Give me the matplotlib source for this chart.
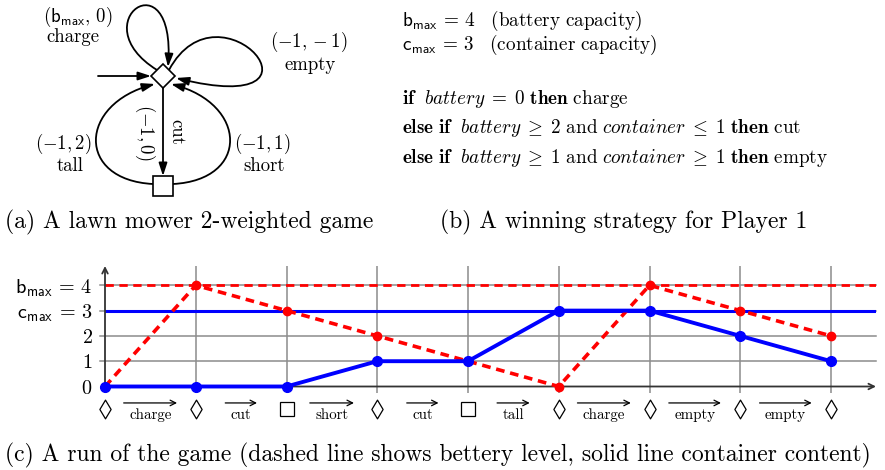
import matplotlib
matplotlib.use('Agg')
import matplotlib.pyplot as plt
from matplotlib.path import Path
from matplotlib.patches import Polygon, Rectangle, FancyArrowPatch

plt.rcParams['font.family'] = ['cmr10', 'DejaVu Serif']
plt.rcParams['mathtext.fontset'] = 'cm'
plt.rcParams['axes.unicode_minus'] = False

# run of the game
states = ['d', 'd', 's', 'd', 's', 'd', 'd', 'd', 'd']
moves = ['charge', 'cut', 'short', 'cut', 'tall', 'charge', 'empty', 'empty']
battery = [0, 4, 3, 2, 1, 0, 4, 3, 2]
container = [0, 0, 0, 1, 1, 3, 3, 2, 1]
b_max = 4
c_max = 3
y_ticks = [0, 1, 2, 3, 4]
y_ticklabels = ['$0$', '$1$', '$2$',
                r'$\mathsf{c}_{\mathsf{max}}\,=\,3$', r'$\mathsf{b}_{\mathsf{max}}\,=\,4$']

# strategy text
strategy = [
    r'$\mathbf{if}\ \ \mathit{battery}\;=\;0\ \mathbf{then}\ \mathrm{charge}$',
    r'$\mathbf{else\ if}\ \ \mathit{battery}\;\geq\;2\ \mathrm{and}\ \mathit{container}\;\leq\;1\ \mathbf{then}\ \mathrm{cut}$',
    r'$\mathbf{else\ if}\ \ \mathit{battery}\;\geq\;1\ \mathrm{and}\ \mathit{container}\;\geq\;1\ \mathbf{then}\ \mathrm{empty}$',
]

W, H = 885, 470
fig = plt.figure(figsize=(W / 100, H / 100), dpi=100)

# overlay in pixel coords for (a), (b) and captions
ax0 = fig.add_axes([0, 0, 1, 1])
ax0.set_xlim(0, W)
ax0.set_ylim(H, 0)
ax0.axis('off')

FS = 13.5

# ---- (a) the game graph
cx, cy, hd = 163, 76, 12
ax0.add_patch(Polygon([(cx, cy - hd), (cx + hd, cy), (cx, cy + hd), (cx - hd, cy)],
                      closed=True, fc='white', ec='black', lw=1.2, zorder=3))
ax0.add_patch(Rectangle((153, 176), 20, 20, fc='white', ec='black', lw=1.2, zorder=3))

arw = dict(arrowstyle='-|>,head_length=0.55,head_width=0.18', mutation_scale=14,
           color='black', lw=1.3, shrinkA=0, shrinkB=0)

def curve(p0, p1, p2, p3):
    path = Path([p0, p1, p2, p3], [Path.MOVETO, Path.CURVE4, Path.CURVE4, Path.CURVE4])
    ax0.add_patch(FancyArrowPatch(path=path, **arw))

curve((157, 70), (80, 22), (176, -45), (168, 67))      # charge
curve((169, 70), (220, -25), (345, 120), (176, 78))    # empty
curve((153, 184), (76, 180), (78, 104), (155, 84))     # tall
curve((173, 184), (250, 180), (248, 104), (171, 84))   # short
ax0.add_patch(FancyArrowPatch((98, cy), (151, cy), **arw))
ax0.add_patch(FancyArrowPatch((cx, cy + hd), (cx, 176), **arw))

ax0.text(78, 17, r'$(\mathsf{b}_{\mathsf{max}},\,0)$', fontsize=FS, ha='center', va='center')
ax0.text(73, 37, 'charge', fontsize=FS, ha='center', va='center')
ax0.text(309, 42, r'$(-1,-1)$', fontsize=FS, ha='center', va='center')
ax0.text(310, 65, 'empty', fontsize=FS, ha='center', va='center')
ax0.text(63, 144, r'$(-1,2)$', fontsize=FS, ha='center', va='center')
ax0.text(70, 166, 'tall', fontsize=FS, ha='center', va='center')
ax0.text(262, 144, r'$(-1,1)$', fontsize=FS, ha='center', va='center')
ax0.text(264, 166, 'short', fontsize=FS, ha='center', va='center')
ax0.text(176, 132, 'cut', fontsize=FS, ha='center', va='center', rotation=-90)
ax0.text(145, 132, r'$(-1,0)$', fontsize=FS, ha='center', va='center', rotation=-90)

# ---- (b) the strategy
BFS = 13.8
ax0.text(402, 26, r'$\mathsf{b}_{\mathsf{max}}\,=\,%d\quad\mathrm{(battery\ capacity)}$' % b_max,
         fontsize=BFS, va='baseline')
ax0.text(402, 50, r'$\mathsf{c}_{\mathsf{max}}\,=\,%d\quad\mathrm{(container\ capacity)}$' % c_max,
         fontsize=BFS, va='baseline')
for yy, line in zip([104, 133, 163], strategy):
    ax0.text(402, yy, line, fontsize=BFS, va='baseline')

# captions
CFS = 17.0
ax0.text(5, 228, '(a) A lawn mower 2-weighted game', fontsize=CFS, va='baseline')
ax0.text(440, 228, '(b) A winning strategy for Player 1', fontsize=CFS, va='baseline')
ax0.text(5, 461, '(c) A run of the game (dashed line shows bettery level, solid line container content)',
         fontsize=CFS, va='baseline')

# ---- (c) the run
x0, x1, ybot, ytop = 105, 876, 386.5, 266
dx, dy = 90.75, 25.3
ax = fig.add_axes([x0 / W, 1 - ybot / H, (x1 - x0) / W, (ybot - ytop) / H])
ax.set_xlim(0, (x1 - x0) / dx)
ax.set_ylim(0, (ybot - ytop) / dy)
ax.patch.set_visible(False)
for s in ax.spines.values():
    s.set_visible(False)
xs = list(range(len(states)))
xmax, ymax = ax.get_xlim()[1], ax.get_ylim()[1]

grid_c = '#8c8c8c'
for yv in y_ticks[1:]:
    ax.plot([-0.06, xmax], [yv, yv], color=grid_c, lw=1.1, clip_on=False, zorder=1)
ax.vlines(xs[1:], -0.25, ymax, color=grid_c, lw=1.1, clip_on=False, zorder=1)

ax.axhline(c_max, color='#0000ff', lw=2.2, zorder=2)
ax.axhline(b_max, color='#ff0000', lw=2.0, ls=(0, (3, 2)), zorder=2)

axis_c = '#333333'
ax.annotate('', xy=(xmax, 0), xytext=(0, 0), annotation_clip=False,
            arrowprops=dict(arrowstyle='->', color=axis_c, lw=1.3, shrinkA=0, shrinkB=0))
ax.annotate('', xy=(0, ymax), xytext=(0, 0), annotation_clip=False,
            arrowprops=dict(arrowstyle='->', color=axis_c, lw=1.3, shrinkA=0, shrinkB=0))

ax.plot(xs, battery, color='#ff0000', lw=2.6, ls=(0, (2.4, 1.6)), marker='o', ms=6,
        clip_on=False, zorder=4)
ax.plot(xs, container, color='#0000ff', lw=2.8, marker='o', ms=7, clip_on=False, zorder=5)

ax.set_xticks([])
ax.set_yticks(y_ticks)
ax.set_yticklabels(y_ticklabels, fontsize=14.5)
ax.tick_params(axis='y', length=0, pad=9)

# states and moves below the axis
loz = Path([(0, 1), (0.6, 0), (0, -1), (-0.6, 0), (0, 1)],
           [Path.MOVETO, Path.LINETO, Path.LINETO, Path.LINETO, Path.CLOSEPOLY])
y_sym, y_arr, y_lab = -0.87, -0.65, -1.15
for x, st in zip(xs, states):
    if st == 'd':
        ax.plot(x, y_sym, marker=loz, ms=13.5, mfc='white', mec='black', mew=0.9, clip_on=False)
    else:
        ax.plot(x, y_sym, marker='s', ms=10, mfc='white', mec='black', mew=0.9, clip_on=False)

labels = []
for x, mv in zip(xs[:-1], moves):
    labels.append(ax.text(x + 0.5, y_lab, mv, fontsize=10.8, ha='center', va='center'))

fig.canvas.draw()
r = fig.canvas.get_renderer()
inv = ax.transData.inverted()
for t in labels:
    bb = t.get_window_extent(r)
    (a0, _), (a1, _) = inv.transform([(bb.x0 - 5.5, 0), (bb.x1 + 5.5, 0)])
    ax.annotate('', xy=(a1, y_arr), xytext=(a0, y_arr), annotation_clip=False,
                arrowprops=dict(arrowstyle='->', color='black', lw=0.9, shrinkA=0, shrinkB=0))

fig.savefig('out.png', dpi=100)
